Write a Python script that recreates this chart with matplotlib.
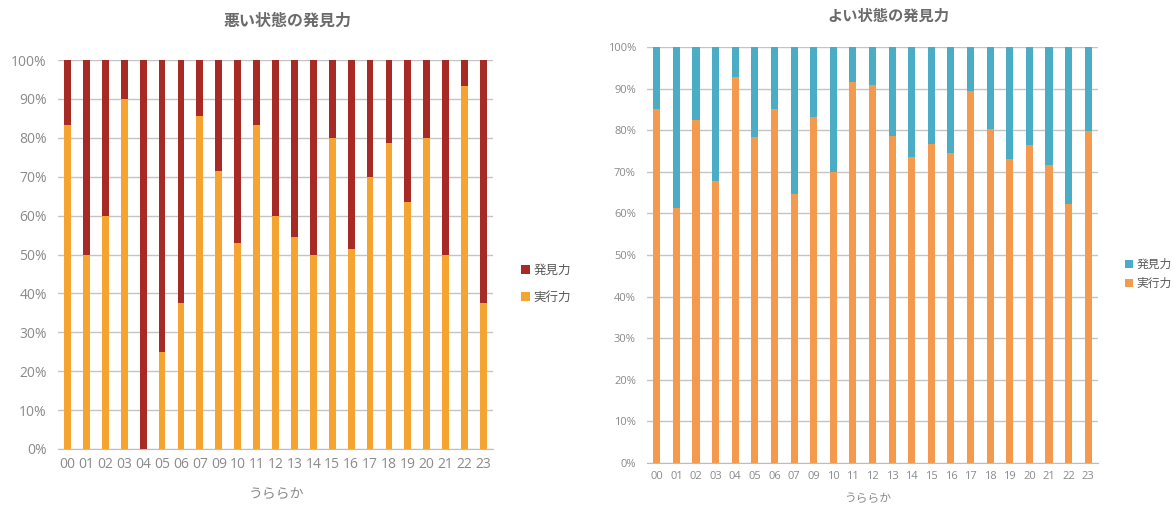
import numpy as np
import matplotlib
matplotlib.use("Agg")
import matplotlib.pyplot as plt
from matplotlib.ticker import PercentFormatter

plt.rcParams["font.family"] = ["Open Sans", "Noto Sans CJK JP", "DejaVu Sans"]

# 時間帯 (08 はデータなし)
hours = ["00", "01", "02", "03", "04", "05", "06", "07", "09", "10", "11", "12",
         "13", "14", "15", "16", "17", "18", "19", "20", "21", "22", "23"]

# 悪い状態: 実行力の割合 (%)
bad_execution = [83.3, 50.0, 60.0, 90.0, 0.0, 25.0, 37.5, 85.7, 71.4, 52.9, 83.3, 60.0,
                 54.5, 50.0, 80.0, 51.4, 70.0, 78.6, 63.6, 80.0, 50.0, 93.3, 37.5]

# よい状態: 実行力の割合 (%)
good_execution = [85.0, 61.3, 82.5, 67.9, 92.7, 78.4, 85.1, 64.7, 83.2, 70.0, 91.5, 90.9,
                  78.7, 73.6, 76.7, 74.4, 89.5, 80.3, 73.1, 76.5, 71.6, 62.3, 79.7]

W, H = 1173, 505
TEXT_GRAY = "#8a8a8a"
TITLE_GRAY = "#6b6b6b"
JP = ["Noto Sans CJK JP", "DejaVu Sans"]


def px_axes(fig, x0, y0, x1, y1):
    return fig.add_axes([x0 / W, 1 - y1 / H, (x1 - x0) / W, (y1 - y0) / H])


def draw_panel(ax, execution, c_exec, c_find, bar_width, tick_size):
    x = np.arange(len(hours))
    execution = np.array(execution)
    discovery = 100 - execution

    ax.bar(x, execution, bar_width, color=c_exec, label="実行力", zorder=3)
    ax.bar(x, discovery, bar_width, bottom=execution, color=c_find,
           label="発見力", zorder=3)

    ax.set_xlim(-0.5, len(hours) - 0.5)
    ax.set_ylim(0, 100)
    ax.set_yticks(np.arange(0, 101, 10))
    ax.yaxis.set_major_formatter(PercentFormatter(decimals=0))
    ax.set_xticks(x)
    ax.set_xticklabels(hours)

    ax.grid(axis="y", color="#c4c4c4", linewidth=1.0, zorder=0)
    for side in ["top", "right", "left"]:
        ax.spines[side].set_visible(False)
    ax.spines["bottom"].set_color("#bdbdbd")
    ax.tick_params(length=0, colors=TEXT_GRAY, labelsize=tick_size)
    ax.tick_params(axis="x", pad=6)
    ax.tick_params(axis="y", pad=8)


fig = plt.figure(figsize=(W / 100, H / 100), dpi=100)

# 左: 悪い状態
ax1 = px_axes(fig, 58, 60, 493, 449)
draw_panel(ax1, bad_execution, "#f5a431", "#a82a24", 0.36, 10)
fig.text(288 / W, 1 - 21 / H, "悪い状態の発見力", ha="center", va="center",
         fontsize=11.5, fontweight="bold", color=TITLE_GRAY, family=JP)
fig.text(276 / W, 1 - 494 / H, "うららか", ha="center", va="center",
         fontsize=10, color=TEXT_GRAY, family=JP)
h, l = ax1.get_legend_handles_labels()
fig.legend(h[::-1], l[::-1], loc="center left", bbox_to_anchor=(510 / W, 1 - 284 / H),
           frameon=False, prop={"family": JP, "size": 9}, labelcolor="#595959",
           handlelength=0.7, handleheight=0.7, handletextpad=0.3, labelspacing=1.1)

# 右: よい状態
ax2 = px_axes(fig, 647, 47, 1098, 463)
draw_panel(ax2, good_execution, "#f39a4e", "#4bacc6", 0.36, 8)
fig.text(888 / W, 1 - 16 / H, "よい状態の発見力", ha="center", va="center",
         fontsize=11, fontweight="bold", color=TITLE_GRAY, family=JP)
fig.text(868 / W, 1 - 498 / H, "うららか", ha="center", va="center",
         fontsize=8.5, color=TEXT_GRAY, family=JP)
h, l = ax2.get_legend_handles_labels()
fig.legend(h[::-1], l[::-1], loc="center left", bbox_to_anchor=(1114 / W, 1 - 274 / H),
           frameon=False, prop={"family": JP, "size": 8.5}, labelcolor="#595959",
           handlelength=0.7, handleheight=0.7, handletextpad=0.3, labelspacing=0.5)

fig.savefig("out.png", dpi=100)
plt.close(fig)
